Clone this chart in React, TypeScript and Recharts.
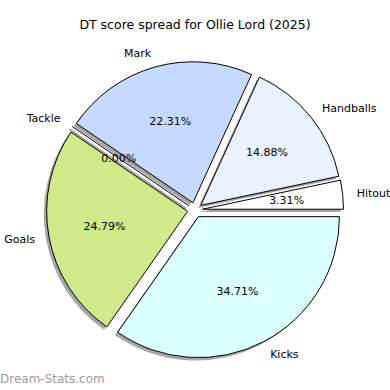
import { PieChart, Pie, Cell, Sector } from "recharts";

const slices = ["Hitout", "Handballs", "Mark", "Tackle", "Goals", "Kicks"];
const scores = [4, 18, 27, 0, 30, 42];
const colours = ["#ffffff", "#eaf2ff", "#c6d9ff", "#ffe4c4", "#d0ea8a", "#dcffff"];

const data = slices.map((name, i) => ({ name, value: scores[i] }));

const RAD = Math.PI / 180;
const EXPLODE = 7.5;
const SHADOW = 2.8;
const FONT = "'DejaVu Sans', sans-serif";

// polar -> screen offset (recharts angles run counter-clockwise)
function offset(angle: number, dist: number) {
  return [dist * Math.cos(angle * RAD), -dist * Math.sin(angle * RAD)];
}

function makeShape(shadow: boolean) {
  return (props: any) => {
    const { cx, cy, outerRadius, startAngle, endAngle, midAngle, fill } = props;
    const [dx, dy] = offset(midAngle, EXPLODE);
    const x = cx + dx + (shadow ? -SHADOW : 0);
    const y = cy + dy + (shadow ? SHADOW : 0);
    if (Math.abs(endAngle - startAngle) < 1e-6) {
      const [ex, ey] = offset(startAngle, outerRadius);
      return (
        <line x1={x} y1={y} x2={x + ex} y2={y + ey} stroke={shadow ? "#a6a6a6" : "#000"} strokeWidth={shadow ? 2 : 1} />
      );
    }
    return (
      <Sector
        cx={x}
        cy={y}
        innerRadius={0}
        outerRadius={outerRadius}
        startAngle={startAngle}
        endAngle={endAngle}
        fill={shadow ? "#a6a6a6" : fill}
        stroke={shadow ? "none" : "#000"}
        strokeWidth={shadow ? 0 : 1}
      />
    );
  };
}

const renderLabel = (props: any) => {
  const { cx, cy, midAngle, outerRadius, percent } = props;
  const name = props.name ?? props.payload?.name;
  const [dx, dy] = offset(midAngle, EXPLODE);
  const [lx, ly] = offset(midAngle, outerRadius * 1.1);
  const [px, py] = offset(midAngle, outerRadius * 0.6);
  const ox = cx + dx;
  const oy = cy + dy;
  return (
    <g>
      <text x={ox + lx} y={oy + ly} textAnchor={lx > 0 ? "start" : "end"} dominantBaseline="central" fontSize={11} fontFamily={FONT} fill="#000">
        {name}
      </text>
      <text x={ox + px} y={oy + py} textAnchor="middle" dominantBaseline="central" fontSize={11} fontFamily={FONT} fill="#000">
        {(percent * 100).toFixed(2)}%
      </text>
    </g>
  );
};

export default function App() {
  return (
    <div style={{ position: "absolute", left: 0, top: 0, width: 390, height: 390, background: "#fff" }}>
      <div
        style={{
          position: "absolute",
          left: 0,
          top: 18,
          width: 390,
          textAlign: "center",
          fontFamily: FONT,
          fontSize: 12.5,
          lineHeight: "14px",
          color: "#000",
        }}
      >
        DT score spread for Ollie Lord (2025)
      </div>
      <PieChart width={390} height={390} margin={{ top: 0, right: 0, bottom: 0, left: 0 }}>
        <Pie
          data={data}
          dataKey="value"
          nameKey="name"
          cx={195}
          cy={210}
          outerRadius={141}
          startAngle={0}
          endAngle={360}
          stroke="none"
          shape={makeShape(true)}
          isAnimationActive={false}
        >
          {data.map((d, i) => (
            <Cell key={d.name} fill={colours[i]} />
          ))}
        </Pie>
        <Pie
          data={data}
          dataKey="value"
          nameKey="name"
          cx={195}
          cy={210}
          outerRadius={141}
          startAngle={0}
          endAngle={360}
          stroke="#000"
          shape={makeShape(false)}
          label={renderLabel}
          labelLine={false}
          isAnimationActive={false}
        >
          {data.map((d, i) => (
            <Cell key={d.name} fill={colours[i]} />
          ))}
        </Pie>
      </PieChart>
      <div
        style={{
          position: "absolute",
          left: 0,
          top: 372,
          fontFamily: FONT,
          fontSize: 12,
          lineHeight: "14px",
          color: "#9a9a9a",
        }}
      >
        Dream-Stats.com
      </div>
    </div>
  );
}
